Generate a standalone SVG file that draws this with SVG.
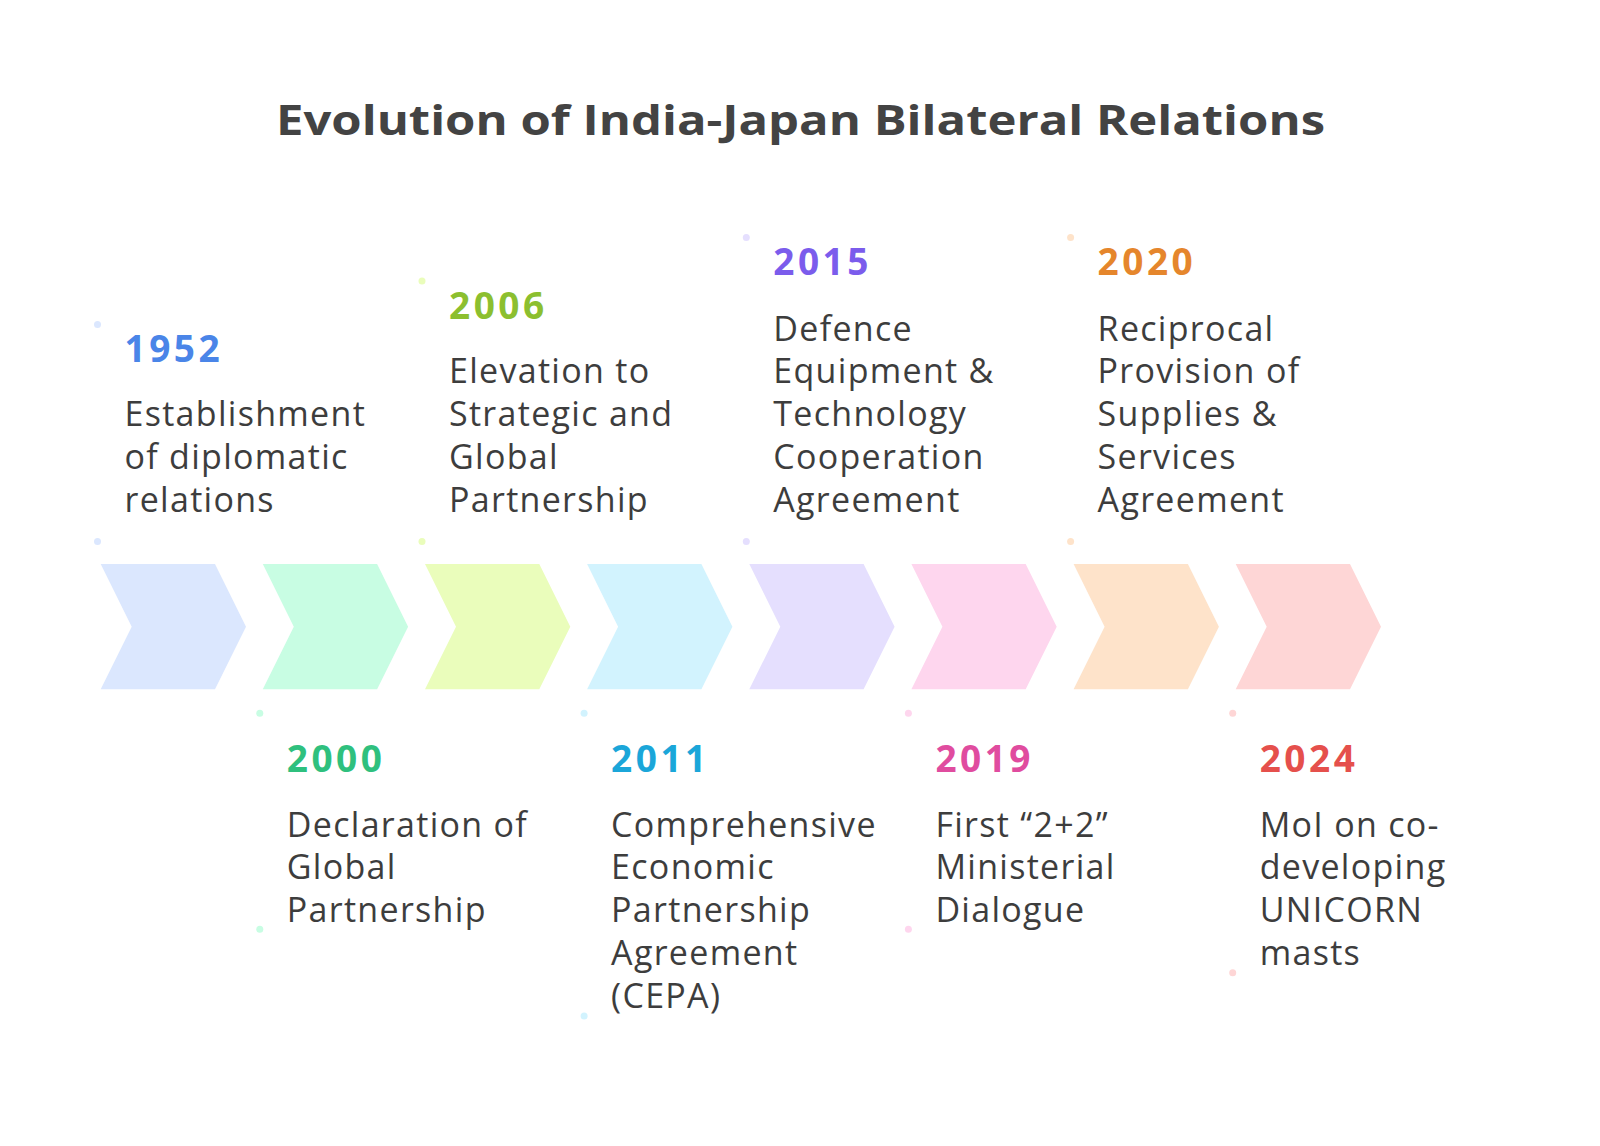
<svg xmlns="http://www.w3.org/2000/svg" width="1600" height="1146" viewBox="0 0 1600 1146">
<style>
.title{font-family:"Open Sans","Noto Sans",sans-serif;font-weight:700;font-size:42px;fill:#434343}
.year{font-family:"Open Sans","Noto Sans",sans-serif;font-weight:700;font-size:37px;letter-spacing:3.5px}
.desc{font-family:"Open Sans","Noto Sans",sans-serif;font-size:34px;fill:#3d3d3d;letter-spacing:1.3px}
.c0{fill:#dbe7fe}.c1{fill:#c8fde3}.c2{fill:#eafdbb}.c3{fill:#d2f3fe}.c4{fill:#e5dffe}.c5{fill:#fed6ee}.c6{fill:#fee3ca}.c7{fill:#fed6d6}
.y0{fill:#4a85e8}.y1{fill:#2fc07e}.y2{fill:#8cbf2f}.y3{fill:#1ba6d9}.y4{fill:#7b5cec}.y5{fill:#e04c9f}.y6{fill:#e5862c}.y7{fill:#e5504c}
</style>
<defs>
<polygon id="chev" points="0,564 114.3,564 145.3,626.7 114.3,689.3 0,689.3 31,626.7"/>
</defs>
<rect width="1600" height="1146" fill="#ffffff"/>
<text class="title" x="276" y="135" textLength="1049" lengthAdjust="spacingAndGlyphs">Evolution of India-Japan Bilateral Relations</text>

<g id="chevrons">
<use href="#chev" x="100.7" class="c0"/>
<use href="#chev" x="262.8" class="c1"/>
<use href="#chev" x="425" class="c2"/>
<use href="#chev" x="587.1" class="c3"/>
<use href="#chev" x="749.3" class="c4"/>
<use href="#chev" x="911.4" class="c5"/>
<use href="#chev" x="1073.6" class="c6"/>
<use href="#chev" x="1235.7" class="c7"/>
</g>

<g id="node-1952">
<circle cx="97.5" cy="324.5" r="3.5" class="c0"/>
<circle cx="97.5" cy="541.5" r="3.5" class="c0"/>
<text class="year y0" x="124.5" y="362">1952</text>
<text class="desc" x="124.5" y="426">Establishment</text>
<text class="desc" x="124.5" y="468.7">of diplomatic</text>
<text class="desc" x="124.5" y="511.5">relations</text>
</g>

<g id="node-2000">
<circle cx="259.8" cy="713.3" r="3.5" class="c1"/>
<circle cx="259.8" cy="929.3" r="3.5" class="c1"/>
<text class="year y1" x="286.8" y="772">2000</text>
<text class="desc" x="286.8" y="836.7">Declaration of</text>
<text class="desc" x="286.8" y="879.4">Global</text>
<text class="desc" x="286.8" y="922">Partnership</text>
</g>

<g id="node-2006">
<circle cx="422" cy="281" r="3.5" class="c2"/>
<circle cx="422" cy="541.5" r="3.5" class="c2"/>
<text class="year y2" x="449" y="318.5">2006</text>
<text class="desc" x="449" y="383">Elevation to</text>
<text class="desc" x="449" y="426">Strategic and</text>
<text class="desc" x="449" y="468.7">Global</text>
<text class="desc" x="449" y="511.5">Partnership</text>
</g>

<g id="node-2011">
<circle cx="584.1" cy="713.3" r="3.5" class="c3"/>
<circle cx="584.1" cy="1016" r="3.5" class="c3"/>
<text class="year y3" x="611.1" y="772">2011</text>
<text class="desc" x="611.1" y="836.7">Comprehensive</text>
<text class="desc" x="611.1" y="879.4">Economic</text>
<text class="desc" x="611.1" y="922">Partnership</text>
<text class="desc" x="611.1" y="964.8">Agreement</text>
<text class="desc" x="611.1" y="1007.5">(CEPA)</text>
</g>

<g id="node-2015">
<circle cx="746.3" cy="237.5" r="3.5" class="c4"/>
<circle cx="746.3" cy="541.5" r="3.5" class="c4"/>
<text class="year y4" x="773.3" y="275">2015</text>
<text class="desc" x="773.3" y="340.5">Defence</text>
<text class="desc" x="773.3" y="383">Equipment &amp;</text>
<text class="desc" x="773.3" y="426">Technology</text>
<text class="desc" x="773.3" y="468.7">Cooperation</text>
<text class="desc" x="773.3" y="511.5">Agreement</text>
</g>

<g id="node-2019">
<circle cx="908.4" cy="713.3" r="3.5" class="c5"/>
<circle cx="908.4" cy="929.3" r="3.5" class="c5"/>
<text class="year y5" x="935.4" y="772">2019</text>
<text class="desc" x="935.4" y="836.7">First “2+2”</text>
<text class="desc" x="935.4" y="879.4">Ministerial</text>
<text class="desc" x="935.4" y="922">Dialogue</text>
</g>

<g id="node-2020">
<circle cx="1070.6" cy="237.5" r="3.5" class="c6"/>
<circle cx="1070.6" cy="541.5" r="3.5" class="c6"/>
<text class="year y6" x="1097.6" y="275">2020</text>
<text class="desc" x="1097.6" y="340.5">Reciprocal</text>
<text class="desc" x="1097.6" y="383">Provision of</text>
<text class="desc" x="1097.6" y="426">Supplies &amp;</text>
<text class="desc" x="1097.6" y="468.7">Services</text>
<text class="desc" x="1097.6" y="511.5">Agreement</text>
</g>

<g id="node-2024">
<circle cx="1232.7" cy="713.3" r="3.5" class="c7"/>
<circle cx="1232.7" cy="972.7" r="3.5" class="c7"/>
<text class="year y7" x="1259.7" y="772">2024</text>
<text class="desc" x="1259.7" y="836.7">MoI on co-</text>
<text class="desc" x="1259.7" y="879.4">developing</text>
<text class="desc" x="1259.7" y="922">UNICORN</text>
<text class="desc" x="1259.7" y="964.8">masts</text>
</g>
</svg>
